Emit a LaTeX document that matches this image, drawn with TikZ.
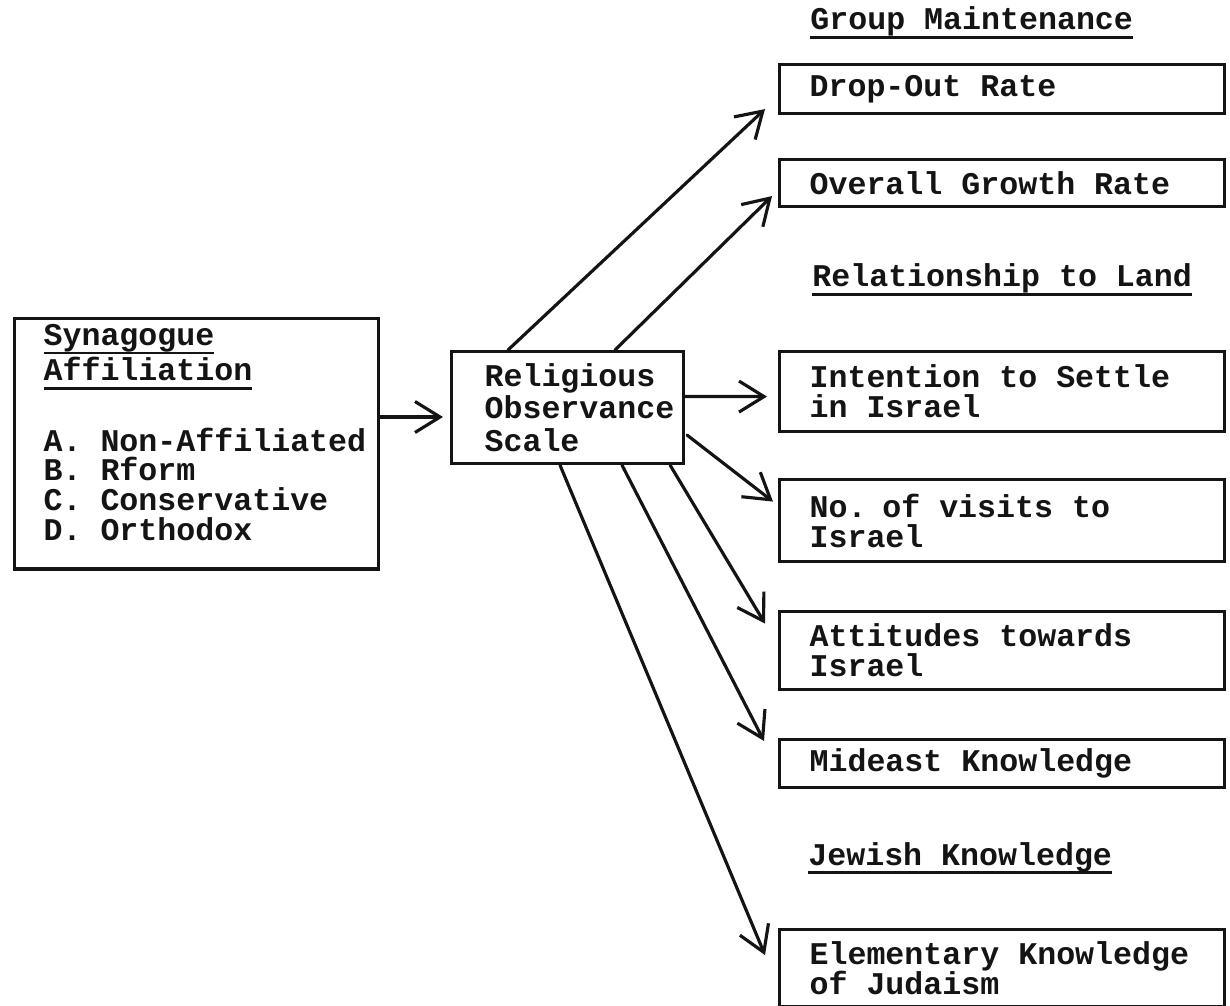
\documentclass[tikz,border=0pt]{standalone}
\usepackage{fontspec}
\newfontfamily\typefont{Liberation Mono}
\usepackage{tikz}
\usetikzlibrary{arrows.meta, positioning, calc}
\definecolor{inkcolor}{RGB}{20, 20, 20}
\hyphenpenalty=10000
\exhyphenpenalty=10000
\newlength{\ulwidth}
\newcommand{\typeul}[1]{\leavevmode\settowidth{\ulwidth}{#1}\rlap{\rule[-5pt]{\ulwidth}{1.4pt}}#1}
\tikzstyle{itembox} = [
    rectangle,
    anchor=north west,
    minimum width=8.9cm,
    text width=7.7cm,
    inner xsep=0.6cm,
    inner ysep=0pt,
    align=left,
    draw=inkcolor,
    line width=1.8pt
]
\tikzstyle{scalebox} = [
    rectangle,
    anchor=north west,
    minimum width=4.64cm,
    minimum height=2.24cm,
    text width=3.32cm,
    inner xsep=0.66cm,
    align=left,
    draw=inkcolor,
    line width=1.8pt
]
\tikzstyle{sourcebox} = [
    rectangle,
    anchor=north west,
    minimum width=7.28cm,
    minimum height=4.96cm,
    text width=6.12cm,
    inner xsep=0.58cm,
    align=left,
    draw=inkcolor,
    line width=1.8pt
]
\tikzstyle{headline} = [
    anchor=base west,
    inner sep=0pt
]
\tikzstyle{arrow} = [
    -{Straight Barb[length=0.5cm, width=0.62cm]},
    line width=1.8pt,
    line cap=round,
    line join=round,
    color=inkcolor
]
\begin{document}
\begin{tikzpicture}[x=0.02cm, y=-0.02cm, font={\typefont\bfseries\fontsize{18pt}{17pt}\selectfont\lineskiplimit=-20pt}, execute at begin node={\spaceskip=0.6em\relax}, color=inkcolor]
\useasboundingbox (0,0) rectangle (1230,1006);

% Source: synagogue affiliation
\node[sourcebox] (syn) at (13, 317) {
    \typeul{Synagogue}\\[3pt]
    \typeul{Affiliation}\\[23pt]
    A.~Non-Affiliated\\
    B.~Rform\\
    C.~Conservative\\
    D.~Orthodox\rule[-0.45cm]{0pt}{0pt}
};

% Middle: observance scale
\node[scalebox] (rel) at (450, 350) {
    Religious\\[1.5pt]
    Observance\\[1.5pt]
    Scale
};

% Group 1: Group Maintenance
\node[headline] (grouphead) at (810, 30) {\typeul{Group Maintenance}};
\node[itembox, minimum height=0.98cm] (drop) at (778, 63) {Drop-Out Rate};
\node[itembox, minimum height=0.94cm] (grow) at (778, 158) {Overall Growth Rate};

% Group 2: Relationship to Land
\node[headline] (landhead) at (812, 287) {\typeul{Relationship to Land}};
\node[itembox, minimum height=1.6cm] (settle) at (778, 350) {Intention to Settle\\in Israel};
\node[itembox, minimum height=1.64cm] (visits) at (778, 478) {No. of visits to\\Israel};
\node[itembox, minimum height=1.56cm] (attit) at (778, 610) {Attitudes towards\\Israel};
\node[itembox, minimum height=0.96cm] (mideast) at (778, 738) {Mideast Knowledge};

% Group 3: Jewish Knowledge
\node[headline] (jewhead) at (808, 865) {\typeul{Jewish Knowledge}};
\node[itembox, minimum height=1.54cm] (elem) at (778, 928) {Elementary Knowledge\\of Judaism};

% Arrow into the scale
\draw[arrow] ($(syn.north east)+(0,100)$) -- ($(rel.north west)+(-7,67)$);

% Arrows out of the scale
\draw[arrow] ($(rel.north west)+(58,0)$) -- ($(drop.west)+(-13,20)$);
\draw[arrow] ($(rel.north west)+(165,0)$) -- ($(grow.west)+(-6,13)$);
\draw[arrow] ($(rel.east)+(0,-11)$) -- ($(settle.west)+(-11,5)$);
\draw[arrow] ($(rel.south east)+(2,-30)$) -- ($(visits.west)+(-5,-19)$);
\draw[arrow] ($(rel.south east)+(-15,0)$) -- ($(attit.west)+(-13,-27)$);
\draw[arrow] ($(rel.south west)+(172,0)$) -- ($(mideast.north west)+(-14,3)$);
\draw[arrow] ($(rel.south west)+(110,0)$) -- ($(elem.west)+(-13,-13)$);

\end{tikzpicture}
\end{document}
